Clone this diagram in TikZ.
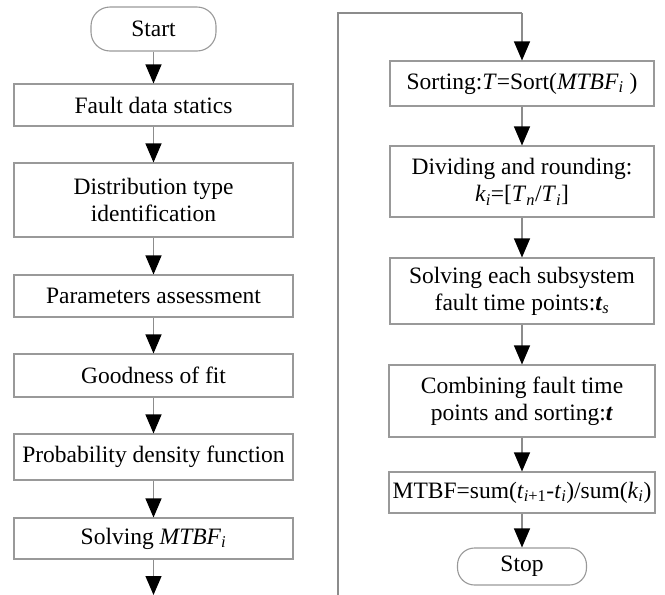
\documentclass[tikz,border=0pt]{standalone}
\usepackage{fontspec}
\setmainfont{Liberation Serif}
\usetikzlibrary{arrows.meta,calc}
\newcommand{\vsub}[2]{\textit{#1}\textsubscript{#2}}

\begin{document}
\begin{tikzpicture}[x=1pt,y=1pt,
    font=\fontsize{23.5}{27}\selectfont,
    line width=1.1pt,
    stepbox/.style={draw=gray!80, rectangle, align=center, inner sep=0pt},
    termbox/.style={draw=gray!80, rectangle, rounded corners=19pt, inner sep=0pt},
    flow/.style={draw=gray!90, -{Triangle[width=16pt,length=19pt,color=black]}},
  ]
    \useasboundingbox (0,0) rectangle (665,-595);
    \def\lx{153.5}\def\rx{522}
    % Left column
    \node[termbox, minimum width=125pt, minimum height=44pt] (start) at (\lx,-29) {Start};
    \node[stepbox, minimum width=279pt, minimum height=42pt] (fds) at (\lx,-105) {Fault data statics};
    \node[stepbox, minimum width=279pt, minimum height=74pt] (dti) at (\lx,-200) {Distribution type\\identification};
    \node[stepbox, minimum width=279pt, minimum height=42pt] (pas) at (\lx,-296) {Parameters assessment};
    \node[stepbox, minimum width=279pt, minimum height=43pt] (gof) at (\lx,-375.5) {Goodness of fit};
    \node[stepbox, minimum width=279pt, minimum height=46pt] (pdf) at (\lx,-457) {Probability density function};
    \node[stepbox, minimum width=279pt, minimum height=41pt] (smt) at (\lx,-538.5) {Solving \vsub{MTBF}{\textit{i}}};
    % Right column
    \node[stepbox, minimum width=264pt, minimum height=45pt] (srt) at (\rx,-83.5) {Sorting:\textit{T}=Sort(\vsub{MTBF}{\textit{i}} )};
    \node[stepbox, minimum width=264pt, minimum height=71pt] (dar) at (\rx,-181.5) {Dividing and rounding:\\\vsub{k}{\textit{i}}=[\vsub{T}{\textit{n}}/\vsub{T}{\textit{i}}]};
    \node[stepbox, minimum width=264pt, minimum height=66pt] (sft) at (\rx,-291) {Solving each subsystem\\fault time points:\textbf{\textit{t}}\textsubscript{\textit{s}}};
    \node[stepbox, minimum width=266pt, minimum height=72pt] (cft) at (\rx,-401) {Combining fault time\\points and sorting:\textbf{\textit{t}}};
    \node[stepbox, minimum width=266pt, minimum height=41pt] (mtb) at (\rx,-492.5) {MTBF=sum(\vsub{t}{\textit{i}+1}-\vsub{t}{\textit{i}})/sum(\vsub{k}{\textit{i}})};
    \node[termbox, minimum width=129pt, minimum height=37pt, rounded corners=17pt] (stop) at (\rx,-566.5) {Stop};
    % Loop back coordinates
    \coordinate (lend) at (\lx,-595);
    \coordinate (rbot) at (338,-595);
    \coordinate (rtop) at (338,-13);
    \coordinate (rin) at (\rx,-13);
    % Connectors
    \foreach \a/\b in {start/fds,fds/dti,dti/pas,pas/gof,gof/pdf,pdf/smt,
                       srt/dar,dar/sft,sft/cft,cft/mtb,mtb/stop}
      \draw[flow] (\a) -- (\b);
    \draw[flow] (smt) -- (lend);
    \draw[draw=gray!90] (rbot) -- (rtop) -- (rin);
    \draw[flow] (rin) -- (srt);
\end{tikzpicture}
\end{document}
